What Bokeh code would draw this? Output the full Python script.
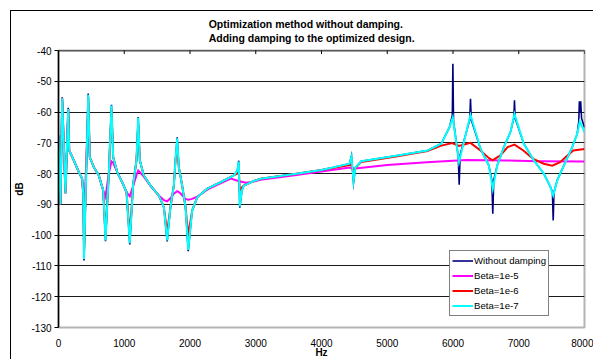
import math
from bokeh.plotting import figure
from bokeh.models import (ColumnDataSource, LinearAxis, FixedTicker, Legend,
                          LegendItem, Range1d, Title, Span)
from bokeh.embed import file_html
from bokeh.resources import INLINE

FONT = "Liberation Sans"

title_lines = ["Optimization method without damping.",
               "Adding damping to the optimized design."]
x_label = "Hz"
y_label = "dB"

x_ticks = [0, 1000, 2000, 3000, 4000, 5000, 6000, 7000, 8000]
x_tick_labels = ["0", "1000", "2000", "3000", "4000", "5000", "6000", "7000", "8000"]
y_ticks = [-130, -120, -110, -100, -90, -80, -70, -60, -50, -40]
y_tick_labels = ["-130", "-120", "-110", "-100", "-90", "-80", "-70", "-60", "-50", "-40"]

series_names = ["Without damping", "Beta=1e-5", "Beta=1e-6", "Beta=1e-7"]
series_colors = ["#000080", "#FF00FF", "#FF0000", "#00FFFF"]

# Without damping
f_none = [0, 30, 56, 106, 148, 163, 233, 309, 360, 376, 388, 452, 476, 537, 613, 680,
          715, 765, 806, 832, 893, 969, 1034, 1084, 1136, 1186, 1212, 1237, 1297, 1399,
          1525, 1602, 1653, 1703, 1754, 1779, 1805, 1830, 1881, 1932, 1973, 2033, 2110,
          2262, 2464, 2666, 2720, 2742, 2757, 2790, 2818, 2970, 3072, 3590, 4000, 4426,
          4456, 4487, 4517, 4604, 5110, 5612, 5821, 5947, 5990, 5998, 6008, 6080, 6094,
          6108, 6255, 6266, 6278, 6418, 6545, 6590, 6605, 6620, 6672, 6773, 6874, 6925,
          6935, 6945, 7077, 7229, 7381, 7483, 7512, 7524, 7536, 7585, 7685, 7813, 7889,
          7913, 7922, 7932, 7942, 7955, 8000]
db_none = [-67.6, -90.0, -55.2, -86.4, -58.6, -72.5, -75.7, -79.5, -81.7, -86.5, -108.2,
           -54.0, -74.7, -77.9, -80.6, -85.5, -102.0, -80.0, -57.6, -74.7, -79.5, -82.8,
           -86.0, -103.0, -83.3, -75.7, -61.6, -75.7, -80.6, -83.9, -87.1, -90.9, -102.0,
           -90.9, -83.9, -75.7, -68.2, -77.9, -83.9, -90.9, -105.2, -92.0, -87.7, -84.9,
           -82.8, -80.6, -79.0, -75.8, -91.1, -85.5, -83.9, -82.4, -81.7, -80.1, -78.8,
           -76.8, -74.2, -83.0, -78.0, -76.0, -74.3, -72.5, -70.3, -64.9, -61.0, -44.3,
           -63.0, -74.6, -83.6, -74.0, -62.5, -55.7, -62.5, -71.9, -77.4, -82.0, -93.0,
           -82.0, -77.4, -71.4, -66.5, -62.0, -56.2, -62.0, -70.3, -75.7, -80.0, -84.4,
           -86.0, -95.2, -86.0, -82.2, -77.4, -71.4, -67.1, -63.0, -56.5, -60.0, -56.5,
           -62.0, -65.0]

# Beta = 1e-5
f_b5 = [0, 30, 56, 106, 148, 163, 233, 309, 360, 376, 388, 452, 476, 537, 613, 680,
        715, 765, 806, 832, 893, 969, 1034, 1084, 1136, 1186, 1212, 1237, 1297, 1399,
        1525, 1602, 1653, 1703, 1754, 1805, 1850, 1932, 1973, 2033, 2110, 2262, 2464,
        2620, 2750, 2850, 2970, 3072, 3590, 4430, 4480, 5000, 5600, 6000, 6200, 6800,
        7300, 8000]
db_b5 = [-67.6, -90.0, -55.5, -86.4, -59.0, -72.5, -75.7, -79.5, -81.7, -86.5, -95.0,
         -60.0, -74.7, -77.9, -80.6, -85.5, -87.5, -80.0, -76.0, -76.5, -79.5, -82.8,
         -86.0, -87.4, -84.0, -80.5, -79.0, -79.5, -81.0, -84.0, -87.1, -88.6, -89.0,
         -88.0, -86.5, -85.7, -86.3, -88.2, -88.5, -88.2, -87.5, -85.2, -83.2, -81.6,
         -82.5, -83.0, -82.6, -82.0, -80.5, -78.0, -78.4, -77.2, -76.3, -75.8, -75.6,
         -75.7, -76.0, -76.1]

# Beta = 1e-6
f_b6 = [0, 30, 56, 106, 148, 163, 233, 309, 360, 376, 388, 452, 476, 537, 613, 680,
        715, 765, 806, 832, 893, 969, 1034, 1084, 1136, 1186, 1212, 1237, 1297, 1399,
        1525, 1602, 1653, 1703, 1754, 1779, 1805, 1830, 1881, 1932, 1973, 2033, 2110,
        2262, 2464, 2666, 2720, 2742, 2757, 2790, 2818, 2970, 3072, 3590, 4000, 4426,
        4456, 4487, 4517, 4604, 5110, 5612, 5821, 5990, 6091, 6266, 6418, 6530, 6600,
        6720, 6830, 6935, 7070, 7220, 7380, 7510, 7630, 7740, 7830, 8000]
db_b6 = [-67.6, -90.0, -55.5, -86.4, -59.0, -72.5, -75.7, -79.5, -81.7, -86.5, -106.0,
         -55.0, -74.7, -77.9, -80.6, -85.5, -100.0, -80.0, -59.0, -74.7, -79.5, -82.8,
         -86.0, -100.0, -83.3, -75.7, -64.0, -75.7, -80.6, -83.9, -87.1, -90.9, -99.0,
         -90.9, -83.9, -75.7, -71.0, -77.9, -83.9, -90.9, -100.0, -92.0, -87.7, -84.9,
         -82.8, -80.6, -80.0, -78.5, -85.5, -84.5, -83.9, -82.4, -81.7, -80.1, -78.8,
         -77.2, -76.8, -80.0, -78.2, -76.2, -74.5, -72.7, -70.9, -70.1, -71.0, -70.0,
         -72.5, -74.7, -75.7, -74.1, -71.4, -70.6, -72.5, -75.2, -76.8, -77.4, -76.3,
         -74.1, -72.5, -72.0]

# Beta = 1e-7
f_b7 = [0, 30, 56, 106, 148, 163, 233, 309, 360, 376, 388, 452, 476, 537, 613, 680,
        715, 765, 806, 832, 893, 969, 1034, 1084, 1136, 1186, 1212, 1237, 1297, 1399,
        1525, 1602, 1653, 1703, 1754, 1779, 1805, 1830, 1881, 1932, 1973, 2033, 2110,
        2262, 2464, 2666, 2720, 2742, 2757, 2790, 2818, 2970, 3072, 3590, 4000, 4426,
        4456, 4487, 4517, 4604, 5110, 5612, 5821, 5947, 5997, 6091, 6266, 6418, 6545,
        6605, 6672, 6773, 6874, 6935, 7077, 7229, 7381, 7483, 7524, 7585, 7685, 7813,
        7889, 7929, 8000]
db_b7 = [-67.6, -90.0, -55.5, -86.4, -59.0, -72.5, -75.7, -79.5, -81.7, -86.5, -107.7,
         -54.4, -74.7, -77.9, -80.6, -85.5, -101.7, -80.0, -57.9, -74.7, -79.5, -82.8,
         -86.0, -102.6, -83.3, -75.7, -61.9, -75.7, -80.6, -83.9, -87.1, -90.9, -101.7,
         -90.9, -83.9, -75.7, -68.5, -77.9, -83.9, -90.9, -104.8, -92.0, -87.7, -84.9,
         -82.8, -80.6, -79.0, -76.1, -90.7, -85.5, -83.9, -82.4, -81.7, -80.1, -78.8,
         -76.8, -74.5, -82.5, -78.0, -76.0, -74.3, -72.5, -70.3, -64.9, -61.7, -76.3,
         -60.9, -71.9, -77.4, -85.0, -77.4, -71.4, -66.5, -60.6, -70.3, -75.7, -80.0,
         -84.4, -87.1, -82.2, -77.4, -71.4, -67.1, -63.0, -66.5]

W, H = 583, 349
p = figure(width=W, height=H, x_range=Range1d(0, 8000), y_range=Range1d(-130, -40),
           output_backend="svg", toolbar_location=None, title=None,
           min_border_left=47, min_border_top=39, min_border_right=10, min_border_bottom=33,
           x_axis_location=None, y_axis_location=None)
p.margin = (10, 0, 0, 10)
p.styles = {"border-top": "1px solid #000000", "border-left": "1px solid #000000"}
p.background_fill_color = "white"
p.border_fill_color = "white"
p.outline_line_color = "#b4b4b4"
p.outline_line_width = 2

# left value axis
yax = LinearAxis(ticker=FixedTicker(ticks=y_ticks), axis_label=y_label)
yax.major_label_overrides = {t: s for t, s in zip(y_ticks, y_tick_labels)}
yax.axis_line_color = "black"
yax.axis_line_width = 1.5
yax.major_tick_in = 0
yax.major_tick_out = 4
yax.major_tick_line_color = "black"
yax.minor_tick_line_color = None
yax.major_label_standoff = 3
yax.major_label_text_font = FONT
yax.major_label_text_font_size = "10px"
yax.major_label_text_color = "black"
yax.axis_label_text_font = FONT
yax.axis_label_text_font_size = "10px"
yax.axis_label_text_font_style = "bold"
yax.axis_label_text_color = "black"
yax.axis_label_standoff = 3
p.add_layout(yax, "left")

# bottom labels
xax = LinearAxis(ticker=FixedTicker(ticks=x_ticks), axis_label=x_label)
xax.major_label_overrides = {t: s for t, s in zip(x_ticks, x_tick_labels)}
xax.axis_line_color = None
xax.major_tick_line_color = None
xax.minor_tick_line_color = None
xax.major_tick_in = 0
xax.major_tick_out = 0
xax.major_label_standoff = 11
xax.major_label_text_font = FONT
xax.major_label_text_font_size = "10px"
xax.major_label_text_color = "black"
xax.axis_label_text_font = FONT
xax.axis_label_text_font_size = "10px"
xax.axis_label_text_font_style = "bold"
xax.axis_label_text_color = "black"
xax.axis_label_standoff = -3
p.add_layout(xax, "below")

# axis line at the top of the plot area, with tick marks pointing inwards
p.add_layout(Span(location=y_ticks[-1], dimension="width", line_color="black",
                  line_width=1.5))
p.scatter(x=x_ticks, y=[y_ticks[-1]] * len(x_ticks), marker="dash", angle=math.pi / 2,
          size=7, line_color="black", line_width=1)

# two-line chart title
ttl = Title(text="\n".join(title_lines), align="left", offset=150.2,
            vertical_align="middle", standoff=12, text_font=FONT,
            text_font_size="10.5px", text_font_style="bold", text_color="black",
            text_line_height=1.1)
p.add_layout(ttl, "above")

p.xgrid.visible = False
p.ygrid.ticker = FixedTicker(ticks=y_ticks)
p.ygrid.grid_line_color = "#1a1a1a"
p.ygrid.grid_line_width = 1

data = [(f_none, db_none, 1.6), (f_b5, db_b5, 2), (f_b6, db_b6, 2), (f_b7, db_b7, 2)]
items = []
for (fx, dy, lw), name, color in zip(data, series_names, series_colors):
    src = ColumnDataSource(dict(x=fx, y=dy))
    r = p.line("x", "y", source=src, line_color=color, line_width=lw, line_join="miter")
    items.append(LegendItem(label=name, renderers=[r]))

leg = Legend(items=items, location=(391, 11))
leg.label_text_font = FONT
leg.label_text_font_size = "9.6px"
leg.label_text_color = "black"
leg.glyph_width = 21
leg.glyph_height = 15
leg.label_height = 15
leg.label_standoff = 1
leg.padding = 2
leg.spacing = 0
leg.margin = 0
leg.border_line_color = "black"
leg.border_line_width = 1
leg.background_fill_color = "white"
leg.background_fill_alpha = 1
p.add_layout(leg, "center")

open("out.html", "w").write(file_html(p, INLINE))
